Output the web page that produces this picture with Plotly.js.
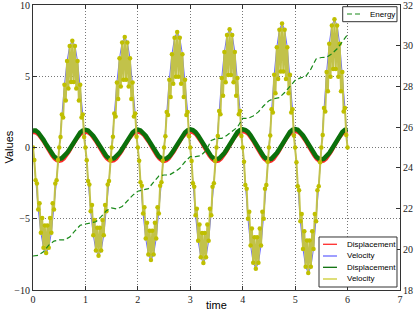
<!DOCTYPE html>
<html>
<head>
<meta charset="utf-8">
<script src="https://cdn.plot.ly/plotly-3.0.1.min.js"></script>
<style>html,body{margin:0;padding:0;background:#fff;}#chart{width:415px;height:313px;}</style>
</head>
<body>
<div id="chart"></div>
<script>
// sampling steps of the recorded series (time axis)
const dtDisp = 0.05, dtVelFine = 0.025, dtEnergy = 0.1;

const dispRed = [
1.02,0.99,0.85,0.62,0.34,0.02,-0.30,-0.58,-0.81,-0.95,-1.00,-0.95,-0.81,-0.58,-0.30,0.02,0.34,0.62,0.85,0.99,
1.04,0.99,0.85,0.62,0.34,0.02,-0.30,-0.58,-0.81,-0.95,-1.00,-0.95,-0.81,-0.58,-0.30,0.02,0.34,0.62,0.85,0.99,
1.05,1.00,0.86,0.63,0.35,0.02,-0.30,-0.58,-0.82,-0.96,-1.01,-0.96,-0.82,-0.58,-0.30,0.02,0.35,0.63,0.86,1.01,
1.07,1.02,0.88,0.64,0.35,0.03,-0.30,-0.59,-0.82,-0.97,-1.02,-0.97,-0.82,-0.59,-0.30,0.03,0.36,0.65,0.88,1.03,
1.08,1.03,0.89,0.65,0.36,0.03,-0.30,-0.59,-0.83,-0.98,-1.03,-0.98,-0.83,-0.59,-0.30,0.03,0.36,0.65,0.89,1.04,
1.09,1.04,0.89,0.65,0.36,0.03,-0.30,-0.59,-0.83,-0.98,-1.03,-0.98,-0.83,-0.59,-0.30,0.03,0.36,0.65,0.89,1.04,
1.09];

const dispGreen = [
1.20,1.19,1.05,0.82,0.54,0.22,-0.10,-0.38,-0.61,-0.75,-0.80,-0.75,-0.61,-0.38,-0.10,0.22,0.54,0.82,1.05,1.19,
1.24,1.19,1.05,0.82,0.54,0.22,-0.10,-0.38,-0.61,-0.75,-0.80,-0.75,-0.61,-0.38,-0.10,0.22,0.54,0.82,1.05,1.19,
1.25,1.20,1.06,0.83,0.55,0.22,-0.10,-0.38,-0.62,-0.76,-0.81,-0.76,-0.62,-0.38,-0.10,0.22,0.55,0.83,1.06,1.21,
1.27,1.22,1.08,0.84,0.55,0.23,-0.10,-0.39,-0.62,-0.77,-0.82,-0.77,-0.62,-0.39,-0.10,0.23,0.56,0.85,1.08,1.23,
1.28,1.23,1.09,0.85,0.56,0.23,-0.10,-0.39,-0.63,-0.78,-0.83,-0.78,-0.63,-0.39,-0.10,0.23,0.56,0.85,1.09,1.24,
1.29,1.24,1.09,0.85,0.56,0.23,-0.10,-0.39,-0.63,-0.78,-0.83,-0.78,-0.63,-0.39,-0.10,0.23,0.56,0.85,1.09,1.24,
1.29];

const velBlue = [
0,-2.29,-4.35,-5.99,-7.04,-7.40,-7.04,-5.99,-4.35,-2.29,0,2.32,4.41,6.07,7.13,7.50,7.13,6.07,4.41,2.32,
0,-2.35,-4.47,-6.15,-7.23,-7.60,-7.23,-6.15,-4.47,-2.35,0,2.39,4.56,6.27,7.37,7.75,7.37,6.27,4.56,2.39,
0,-2.44,-4.64,-6.39,-7.51,-7.90,-7.51,-6.39,-4.64,-2.44,0,2.50,4.76,6.55,7.70,8.10,7.70,6.55,4.76,2.50,
0,-2.50,-4.76,-6.55,-7.70,-8.10,-7.70,-6.55,-4.76,-2.50,0,2.56,4.88,6.71,7.89,8.30,7.89,6.71,4.88,2.56,
0,-2.63,-5.00,-6.88,-8.08,-8.50,-8.08,-6.88,-5.00,-2.63,0,2.69,5.11,7.04,8.27,8.70,8.27,7.04,5.11,2.69,
0,-2.72,-5.17,-7.12,-8.37,-8.80,-8.37,-7.12,-5.17,-2.72,0,2.78,5.29,7.28,8.56,9.00,8.56,7.28,5.29,2.78,
0];

const velYellow = [
0,-0.87,-2.29,-2.52,-4.35,-3.92,-5.99,-4.95,-7.04,-5.48,-7.40,-5.48,-7.04,-4.95,-5.99,-3.92,-4.35,-2.52,-2.29,-0.87,
0,0.73,2.32,2.11,4.41,3.29,6.07,4.14,7.13,4.59,7.50,4.59,7.13,4.14,6.07,3.29,4.41,2.11,2.32,0.73,
0,-0.89,-2.35,-2.59,-4.47,-4.03,-6.15,-5.08,-7.23,-5.63,-7.60,-5.63,-7.23,-5.08,-6.15,-4.03,-4.47,-2.59,-2.35,-0.89,
0,0.75,2.39,2.18,4.56,3.40,6.27,4.28,7.37,4.75,7.75,4.75,7.37,4.28,6.27,3.40,4.56,2.18,2.39,0.75,
0,-0.93,-2.44,-2.69,-4.64,-4.19,-6.39,-5.28,-7.51,-5.85,-7.90,-5.85,-7.51,-5.28,-6.39,-4.19,-4.64,-2.69,-2.44,-0.93,
0,0.79,2.50,2.28,4.76,3.55,6.55,4.47,7.70,4.96,8.10,4.96,7.70,4.47,6.55,3.55,4.76,2.28,2.50,0.79,
0,-0.95,-2.50,-2.76,-4.76,-4.30,-6.55,-5.41,-7.70,-6.00,-8.10,-6.00,-7.70,-5.41,-6.55,-4.30,-4.76,-2.76,-2.50,-0.95,
0,0.81,2.56,2.34,4.88,3.64,6.71,4.58,7.89,5.08,8.30,5.08,7.89,4.58,6.71,3.64,4.88,2.34,2.56,0.81,
0,-1.00,-2.63,-2.89,-5.00,-4.51,-6.88,-5.68,-8.08,-6.30,-8.50,-6.30,-8.08,-5.68,-6.88,-4.51,-5.00,-2.89,-2.63,-1.00,
0,0.84,2.69,2.45,5.11,3.81,7.04,4.81,8.27,5.33,8.70,5.33,8.27,4.81,7.04,3.81,5.11,2.45,2.69,0.84,
0,-1.03,-2.72,-3.00,-5.17,-4.67,-7.12,-5.88,-8.37,-6.52,-8.80,-6.52,-8.37,-5.88,-7.12,-4.67,-5.17,-3.00,-2.72,-1.03,
0,0.87,2.78,2.53,5.29,3.95,7.28,4.97,8.56,5.51,9.00,5.51,8.56,4.97,7.28,3.95,5.29,2.53,2.78,0.87,
0];

const energy = [
19.67,19.70,19.88,20.20,20.40,20.46,20.46,20.60,20.90,21.18,
21.24,21.28,21.35,21.60,21.90,22.03,21.98,22.10,22.38,22.65,
22.85,22.92,22.98,23.30,23.60,23.65,23.65,23.80,23.98,24.30,
24.55,24.55,24.60,24.85,25.35,25.45,25.45,25.60,25.78,26.00,
26.43,26.43,26.55,26.75,27.05,27.30,27.40,27.45,27.70,28.00,
28.30,28.42,28.48,28.85,29.35,29.42,29.43,29.60,29.85,30.20,
30.55];

const names = ['Displacement','Velocity','Displacement','Velocity','Energy'];
const colors = ['#ff2a2a','#6a6aff','#0b700b','#cccc30','#1a8a1a'];

const timeOf = (n, dt) => Array.from({length:n}, (_, i) => +(i*dt).toFixed(4));
const tDisp = timeOf(dispRed.length, dtDisp);
const tFine = timeOf(velYellow.length, dtVelFine);
const tEnergy = timeOf(energy.length, dtEnergy);

const data = [
  {x:tDisp, y:dispRed, name:names[0], mode:'lines', line:{color:colors[0], width:2.4}},
  {x:tDisp, y:velBlue, name:names[1], mode:'lines', line:{color:colors[1], width:1}},
  {x:tDisp, y:dispGreen, name:names[2], mode:'lines', line:{color:colors[2], width:4.5}},
  {x:tFine, y:velYellow, name:names[3], mode:'lines', line:{color:'#c2c24a', width:2}},
  {x:tFine, y:velYellow, name:names[3], mode:'markers', marker:{color:'#bfbf00', size:4.5}, hoverinfo:'skip'},
  {x:tEnergy, y:energy, name:names[4], mode:'lines', yaxis:'y2', line:{color:colors[4], width:1.2, dash:'5px,3px'}}
];

// legend boxes drawn in paper coordinates
const legFont = {family:'Liberation Sans, Arial, sans-serif', size:8, color:'#000'};
const shapes = [
  {type:'rect', xref:'paper', yref:'paper', x0:0.7793, x1:0.9918, y0:0.0105, y1:0.186, fillcolor:'#fff', line:{color:'#333', width:1}},
  {type:'rect', xref:'paper', yref:'paper', x0:0.8439, x1:0.9918, y0:0.9414, y1:0.994, fillcolor:'#fff', line:{color:'#333', width:1}},
];
const rowsY = [0.1604, 0.1193, 0.0796, 0.0386];
const annotations = [
  {text:'Values', xref:'paper', yref:'paper', x:-0.068, y:0.5, showarrow:false, textangle:-90,
   font:{family:'Liberation Sans, Arial, sans-serif', size:11}, xanchor:'center', yanchor:'middle'},
  {text:'time', xref:'paper', yref:'paper', x:0.5, y:-0.053, showarrow:false,
   font:{family:'Liberation Sans, Arial, sans-serif', size:11}, xanchor:'center', yanchor:'middle'}
];
for (let i = 0; i < 4; i++) {
  shapes.push({type:'line', xref:'paper', yref:'paper', x0:0.7902, x1:0.8283, y0:rowsY[i], y1:rowsY[i],
               line:{color:colors[i], width:1.3}});
  annotations.push({text:names[i], xref:'paper', yref:'paper', x:0.8501, y:rowsY[i], xanchor:'left', yanchor:'middle',
                    showarrow:false, font:legFont});
}
shapes.push({type:'line', xref:'paper', yref:'paper', x0:0.8556, x1:0.8937, y0:0.9684, y1:0.9684,
             line:{color:colors[4], width:1.2, dash:'5px,3px'}});
annotations.push({text:names[4], xref:'paper', yref:'paper', x:0.9128, y:0.9684, xanchor:'left', yanchor:'middle',
                  showarrow:false, font:legFont});

const tickFont = {family:'Liberation Serif, DejaVu Serif, serif', size:10, color:'#222'};
const layout = {
  width:415, height:313,
  margin:{l:33, r:15, t:5, b:23, pad:0},
  paper_bgcolor:'#fff', plot_bgcolor:'#fff',
  showlegend:false,
  font:{family:'Liberation Sans, Arial, sans-serif', size:8, color:'#000'},
  xaxis:{range:[0,7], dtick:1, tick0:0, ticks:'inside', ticklen:4, tickcolor:'#333',
         showline:true, linecolor:'#333', linewidth:1, mirror:'ticks',
         showgrid:true, gridcolor:'#777', griddash:'1px,2px', gridwidth:1,
         zeroline:false, tickfont:tickFont, ticklabeloverflow:'allow'},
  yaxis:{range:[-10,10], dtick:5, tick0:0, ticks:'inside', ticklen:4, tickcolor:'#333',
         showline:true, linecolor:'#333', linewidth:1,
         showgrid:true, gridcolor:'#777', griddash:'1px,2px', gridwidth:1,
         zeroline:false, tickfont:tickFont, ticklabeloverflow:'allow'},
  yaxis2:{range:[18,32], dtick:2, tick0:18, overlaying:'y', side:'right', ticks:'inside', ticklen:4, tickcolor:'#333',
          showline:true, linecolor:'#333', linewidth:1, showgrid:false, zeroline:false, tickfont:tickFont,
          ticklabeloverflow:'allow'},
  shapes:shapes,
  annotations:annotations
};

Plotly.newPlot('chart', data, layout, {staticPlot:true, displayModeBar:false});
</script>
</body>
</html>
